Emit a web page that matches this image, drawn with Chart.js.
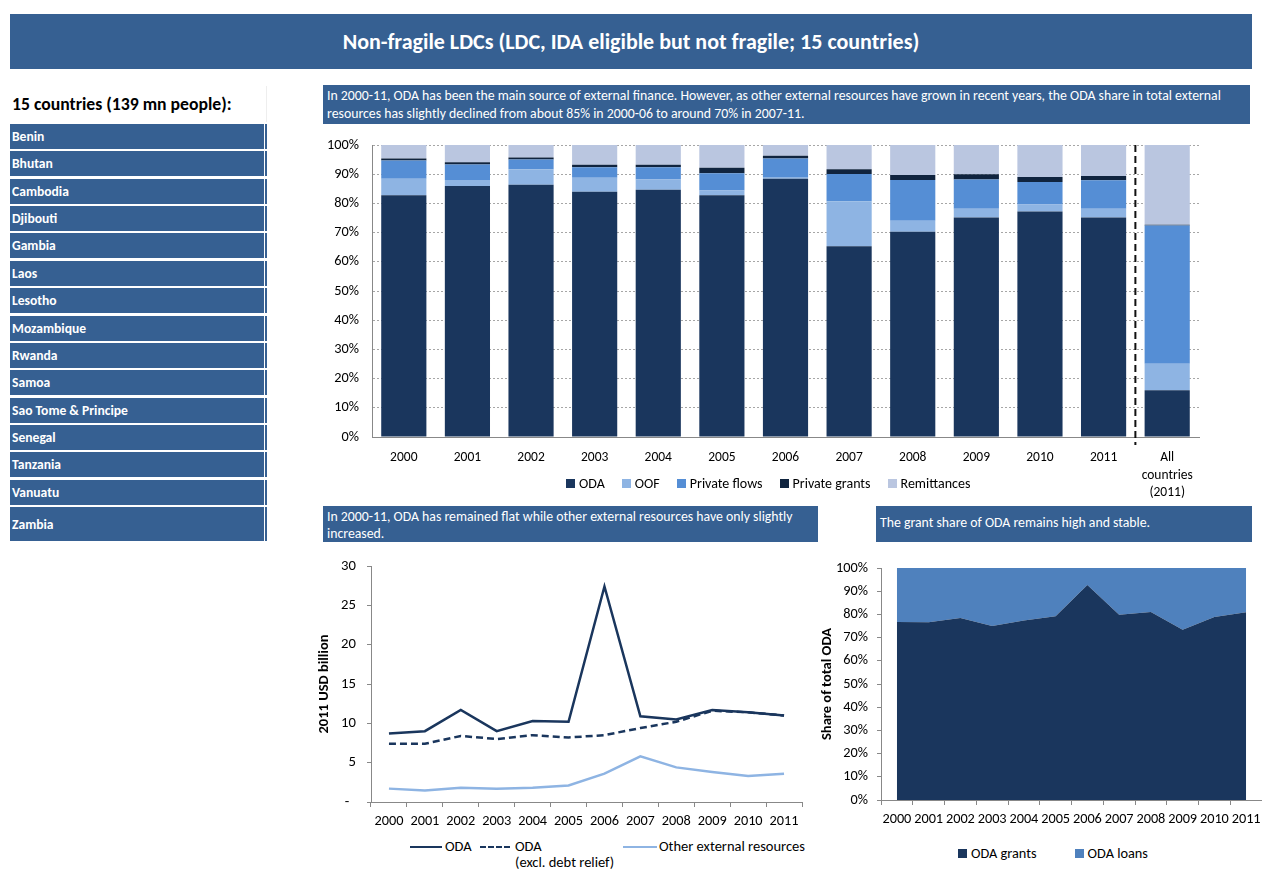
<!DOCTYPE html>
<html>
<head>
<meta charset="utf-8">
<script src="https://cdn.jsdelivr.net/npm/chart.js@4.4.1/dist/chart.umd.min.js"></script>
<style>
  body { margin: 0; background: #fff; font-family: Carlito, Lato, sans-serif; }
  #page { position: relative; width: 1262px; height: 870px; overflow: hidden; }
  .box { position: absolute; background: #366092; color: #fff; box-sizing: border-box; }
  .note { font-size: 13.8px; line-height: 18px; padding: 2px 4px; white-space: nowrap; }
  .country { left: 10px; width: 255px; height: 25px; font-size: 13.6px; font-weight: bold; padding-left: 2px; display: flex; align-items: center; }
  canvas { position: absolute; }
  .legend { position: absolute; display: flex; align-items: center; font-size: 14px; color: #000; white-space: nowrap; }
  .legend .sw { display: inline-block; width: 9px; height: 9px; margin-right: 4px; }
  .legend .item { display: flex; align-items: center; }
</style>
</head>
<body>
<div id="page">
  <div class="box" style="left:10px;top:14px;width:1242px;height:55px;display:flex;align-items:center;justify-content:center;font-size:22px;font-weight:bold;">Non-fragile LDCs (LDC, IDA eligible but not fragile; 15 countries)</div>

  <div style="position:absolute;left:12px;top:93px;font-size:17.7px;font-weight:bold;">15 countries (139 mn people):</div>
  <div style="position:absolute;left:266px;top:86px;width:1px;height:36px;background:#eee;"></div>
  <div id="countries"></div>

  <div class="box note" style="left:323px;top:85px;width:927px;height:39px;">In 2000-11, ODA has been the main source of external finance. However, as other external resources have grown in recent years, the ODA share in total external<br>resources has slightly declined from about 85% in 2000-06 to around 70% in 2007-11.</div>

  <canvas id="barChart" width="890" height="375" style="left:320px;top:130px;"></canvas>
  <div class="legend" id="barLegend" style="left:566px;top:475px;height:16px;"></div>

  <div class="box note" style="left:323px;top:506px;width:495px;height:36px;line-height:17px;">In 2000-11, ODA has remained flat while other external resources have only slightly<br>increased.</div>
  <div class="box note" style="left:876px;top:506px;width:376px;height:36px;line-height:34px;padding-top:0;">The grant share of ODA remains high and stable.</div>

  <canvas id="lineChart" width="500" height="277" style="left:310px;top:555px;"></canvas>
  <div id="lineLegend" style="position:absolute;left:410px;top:838px;font-size:14.5px;line-height:16px;"></div>

  <canvas id="areaChart" width="447" height="275" style="left:815px;top:555px;"></canvas>
  <div class="legend" id="areaLegend" style="left:958px;top:845px;height:16px;font-size:14.3px;"></div>
</div>

<script>
Chart.defaults.font.family = "Carlito, Lato, sans-serif";
Chart.defaults.font.size = 14.3;
Chart.defaults.color = '#000';

const countries = ['Benin', 'Bhutan', 'Cambodia', 'Djibouti', 'Gambia', 'Laos', 'Lesotho', 'Mozambique',
  'Rwanda', 'Samoa', 'Sao Tome & Principe', 'Senegal', 'Tanzania', 'Vanuatu', 'Zambia'];

const years = ['2000', '2001', '2002', '2003', '2004', '2005', '2006', '2007', '2008', '2009', '2010', '2011'];
const barLabels = [...years, ['All', 'countries', '(2011)']];

// shares of total external resources, % (last value = all countries 2011)
const odaShare = [82.8, 86.0, 86.4, 84.0, 84.7, 82.8, 88.4, 65.3, 70.3, 75.2, 77.2, 75.2, 16.0];
const oofShare = [5.6, 2.0, 5.3, 4.8, 3.5, 1.6, 0.6, 15.4, 3.8, 3.0, 2.4, 3.0, 9.1];
const privateFlowsShare = [6.3, 5.3, 3.3, 3.6, 4.2, 5.9, 6.4, 9.4, 13.9, 10.0, 7.7, 9.7, 47.3];
const privateGrantsShare = [0.7, 0.8, 0.7, 0.8, 0.8, 1.9, 0.9, 1.6, 1.7, 1.8, 1.7, 1.5, 0.3];
const remittancesShare = [4.6, 5.9, 4.3, 6.8, 6.8, 7.8, 3.7, 8.3, 10.3, 10.0, 11.0, 10.6, 27.3];

// 2011 USD billion
const odaTotal = [8.7, 9.0, 11.7, 9.0, 10.3, 10.2, 27.4, 10.9, 10.5, 11.7, 11.4, 11.0];
const odaExclDebt = [7.4, 7.4, 8.4, 8.0, 8.5, 8.2, 8.5, 9.4, 10.2, 11.6, 11.4, 11.0];
const otherResources = [1.7, 1.45, 1.8, 1.7, 1.8, 2.1, 3.6, 5.8, 4.4, 3.8, 3.3, 3.6];

// share of total ODA, %
const odaGrants = [76.7, 76.6, 78.4, 75.0, 77.4, 79.2, 92.7, 79.9, 81.0, 73.4, 78.9, 80.9];
const odaLoans = [23.3, 23.4, 21.6, 25.0, 22.6, 20.8, 7.3, 20.1, 19.0, 26.6, 21.1, 19.1];

const navy = '#1a365d';
const darkNavy = '#10243f';
const oofBlue = '#8eb4e3';
const pfBlue = '#558ed5';
const remBlue = '#bac6e0';
const loanBlue = '#4f81bd';

// country list
const cWrap = document.getElementById('countries');
countries.forEach((c, i) => {
  const d = document.createElement('div');
  d.className = 'box country';
  d.style.top = (124 + i * 27.36) + 'px';
  if (i === countries.length - 1) d.style.height = '34px';
  d.style.borderRight = '1px solid #fff';
  d.style.boxShadow = '2px 0 0 #366092';
  d.textContent = c;
  cWrap.appendChild(d);
});

// keep the plot areas where the reference has them
const noYPad = (w) => (s) => { s.width = w; s.paddingTop = 0; s.paddingBottom = 0; };
const noXPad = (h) => (s) => { s.height = h; s.paddingLeft = 0; s.paddingRight = 0; };

// vertical dashed separator before "All countries"
const separator = {
  id: 'separator',
  afterDatasetsDraw(chart) {
    const x = chart.scales.x;
    const px = (x.getPixelForValue(11) + x.getPixelForValue(12)) / 2;
    const ctx = chart.ctx;
    ctx.save();
    ctx.strokeStyle = '#111';
    ctx.lineWidth = 2;
    ctx.setLineDash([7, 4]);
    ctx.beginPath();
    ctx.moveTo(px, chart.chartArea.top);
    ctx.lineTo(px, chart.chartArea.bottom + 8);
    ctx.stroke();
    ctx.restore();
  }
};

const barSeries = [
  { label: 'ODA', data: odaShare, color: navy },
  { label: 'OOF', data: oofShare, color: oofBlue },
  { label: 'Private flows', data: privateFlowsShare, color: pfBlue },
  { label: 'Private grants', data: privateGrantsShare, color: darkNavy },
  { label: 'Remittances', data: remittancesShare, color: remBlue }
];

new Chart(document.getElementById('barChart'), {
  type: 'bar',
  data: {
    labels: barLabels,
    datasets: barSeries.map(s => ({
      label: s.label,
      data: s.data,
      backgroundColor: s.color,
      borderWidth: 0,
      categoryPercentage: 1,
      barPercentage: 0.71
    }))
  },
  options: {
    responsive: false,
    animation: false,
    layout: { padding: { top: 15, right: 11, left: 0, bottom: 0 } },
    plugins: { legend: { display: false }, tooltip: { enabled: false } },
    scales: {
      x: {
        stacked: true,
        grid: { display: false },
        border: { color: '#888' },
        ticks: { padding: 4, font: { size: 13.5, lineHeight: 1.3 }, maxRotation: 0, autoSkip: false },
        afterFit: noXPad(68)
      },
      y: {
        stacked: true,
        min: 0,
        max: 100,
        grid: { color: '#a6a6a6', drawTicks: false },
        border: { color: '#888', dash: [2, 2] },
        ticks: { stepSize: 10, padding: 13, callback: v => v + '%' },
        afterFit: noYPad(52)
      }
    }
  },
  plugins: [separator]
});

// bar legend
const barLegend = document.getElementById('barLegend');
barSeries.forEach((s, i) => {
  const it = document.createElement('span');
  it.className = 'item';
  it.style.marginRight = i < barSeries.length - 1 ? '17px' : '0';
  it.innerHTML = '<span class="sw" style="background:' + s.color + '"></span>' + s.label;
  barLegend.appendChild(it);
});

new Chart(document.getElementById('lineChart'), {
  type: 'line',
  data: {
    labels: years,
    datasets: [
      { label: 'ODA', data: odaTotal, borderColor: navy, borderWidth: 2.5, pointRadius: 0, tension: 0 },
      { label: 'ODA (excl. debt relief)', data: odaExclDebt, borderColor: navy, borderWidth: 2.5, borderDash: [7, 4], pointRadius: 0, tension: 0 },
      { label: 'Other external resources', data: otherResources, borderColor: oofBlue, borderWidth: 2.5, pointRadius: 0, tension: 0 }
    ]
  },
  options: {
    responsive: false,
    animation: false,
    layout: { padding: { top: 11, right: 8, left: 0, bottom: 0 } },
    plugins: { legend: { display: false }, tooltip: { enabled: false } },
    scales: {
      x: {
        offset: true,
        grid: { offset: true, drawOnChartArea: false, tickLength: 5, color: '#888' },
        border: { color: '#888' },
        ticks: { padding: 6, maxRotation: 0, autoSkip: false },
        afterFit: noXPad(30)
      },
      y: {
        min: 0,
        max: 30,
        grid: { drawOnChartArea: false, tickLength: 4, color: '#888' },
        border: { color: '#888' },
        ticks: { stepSize: 5, padding: 11, font: { size: 14.7 }, callback: v => v === 0 ? '-  ' : v },
        title: { display: true, text: '2011 USD billion', font: { size: 14.5, weight: 'bold' }, padding: { top: 6, bottom: 0 } },
        afterFit: noYPad(61)
      }
    }
  }
});

document.getElementById('lineLegend').innerHTML =
  '<div style="position:absolute;left:0;top:0;width:32px;height:0;border-top:2.5px solid ' + navy + ';margin-top:8px;"></div>' +
  '<div style="position:absolute;left:35px;top:0;">ODA</div>' +
  '<div style="position:absolute;left:70px;top:0;width:30px;height:0;border-top:2.5px dashed ' + navy + ';margin-top:8px;"></div>' +
  '<div style="position:absolute;left:105px;top:0;white-space:nowrap;">ODA<br>(excl. debt relief)</div>' +
  '<div style="position:absolute;left:213px;top:0;width:34px;height:0;border-top:2.5px solid ' + oofBlue + ';margin-top:8px;"></div>' +
  '<div style="position:absolute;left:249px;top:0;white-space:nowrap;">Other external resources</div>';

new Chart(document.getElementById('areaChart'), {
  type: 'line',
  data: {
    labels: years,
    datasets: [
      { label: 'ODA grants', data: odaGrants, backgroundColor: navy, borderWidth: 0, pointRadius: 0, fill: 'origin', tension: 0 },
      { label: 'ODA loans', data: odaLoans, backgroundColor: loanBlue, borderWidth: 0, pointRadius: 0, fill: '-1', tension: 0 }
    ]
  },
  options: {
    responsive: false,
    animation: false,
    layout: { padding: { top: 13, right: 0, left: 0, bottom: 0 } },
    plugins: { legend: { display: false }, tooltip: { enabled: false } },
    scales: {
      x: {
        offset: true,
        grid: { offset: true, drawOnChartArea: false, tickLength: 5, color: '#888' },
        border: { color: '#888' },
        ticks: { padding: 6, maxRotation: 0, autoSkip: false },
        afterFit: noXPad(30)
      },
      y: {
        stacked: true,
        min: 0,
        max: 100,
        grid: { drawOnChartArea: false, tickLength: 4, color: '#888' },
        border: { color: '#888' },
        ticks: { stepSize: 10, padding: 9, callback: v => v + '%' },
        title: { display: true, text: 'Share of total ODA', font: { size: 14.5, weight: 'bold' } },
        afterFit: noYPad(66)
      }
    }
  }
});

const areaLegend = document.getElementById('areaLegend');
[['ODA grants', navy], ['ODA loans', loanBlue]].forEach((s, i) => {
  const it = document.createElement('span');
  it.className = 'item';
  it.style.marginRight = i === 0 ? '38px' : '0';
  it.innerHTML = '<span class="sw" style="background:' + s[1] + '"></span>' + s[0];
  areaLegend.appendChild(it);
});
</script>
</body>
</html>
